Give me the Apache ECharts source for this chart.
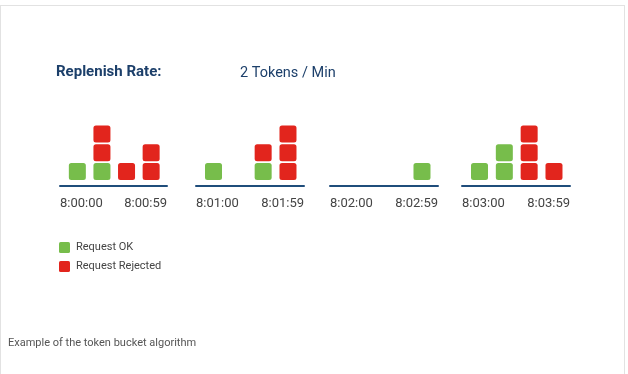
<!DOCTYPE html>
<html>
<head>
<meta charset="utf-8">
<script src="https://cdn.jsdelivr.net/npm/echarts@6/dist/echarts.min.js"></script>
<style>
  html, body { margin: 0; padding: 0; background: #ffffff; }
  #frame { position: absolute; left: 0; top: 5px; width: 625px; height: 420px; border: 1px solid #e2e2e2; box-sizing: border-box; }
  #chart { position: absolute; left: 0; top: 0; width: 628px; height: 374px; }
</style>
</head>
<body>
<div id="frame"></div>
<div id="chart"></div>
<script>
// ---- data ----
var minuteStartLabels = ['8:00:00', '8:01:00', '8:02:00', '8:03:00'];
var minuteEndLabels   = ['8:00:59', '8:01:59', '8:02:59', '8:03:59'];
// four request slots per minute; counts of requests stacked bottom-up (OK first, then rejected)
var okCounts1 = [1, 1, 0, 0];
var okCounts2 = [1, 0, 1, 0];
var okCounts3 = [0, 0, 0, 1];
var okCounts4 = [1, 2, 0, 0];
var rejectedCounts1 = [0, 2, 1, 2];
var rejectedCounts2 = [0, 0, 1, 3];
var rejectedCounts3 = [0, 0, 0, 0];
var rejectedCounts4 = [0, 0, 3, 1];
var okCounts = [okCounts1, okCounts2, okCounts3, okCounts4];
var rejectedCounts = [rejectedCounts1, rejectedCounts2, rejectedCounts3, rejectedCounts4];
var titleText = 'Replenish Rate:';
var rateText = '2 Tokens / Min';
var captionText = 'Example of the token bucket algorithm';

// ---- style ----
var GREEN = '#77bd4b';
var RED = '#e2251d';
var NAVY = '#1f4d7b';
var SQ = 'path://M2.5,0H14.5A2.5,2.5,0,0,1,17,2.5V14.5A2.5,2.5,0,0,1,14.5,17H2.5A2.5,2.5,0,0,1,0,14.5V2.5A2.5,2.5,0,0,1,2.5,0Z';
var gridLefts = [60, 196, 330, 462];
var gridWidths = [107, 108, 108, 108];
var XMIN = -0.705, XMAX = 3.645;
var YMIN = -0.77, YMAX = 4.23;

var grids = [], xAxes = [], yAxes = [], series = [];
for (var g = 0; g < 4; g++) {
  grids.push({ left: gridLefts[g], width: gridWidths[g], bottom: 188, height: 94, containLabel: false });
  (function (gi) {
    xAxes.push({
      type: 'value', gridIndex: gi, min: XMIN, max: XMAX,
      splitLine: { show: false }, axisTick: { show: false },
      axisLine: { show: true, onZero: false, lineStyle: { color: NAVY, width: 2 } },
      axisLabel: {
        show: true, customValues: [XMIN, XMAX], margin: 11,
        alignMinLabel: 'left', alignMaxLabel: 'right',
        fontFamily: 'Roboto', fontSize: 13, color: '#444',
        formatter: function (v) { return Math.abs(v - XMIN) < 0.01 ? minuteStartLabels[gi] : minuteEndLabels[gi]; }
      }
    });
  })(g);
  yAxes.push({ type: 'value', gridIndex: g, min: YMIN, max: YMAX, show: false });
  var okPts = [], rejPts = [];
  for (var s = 0; s < 4; s++) {
    var lvl = 0;
    for (var k = 0; k < okCounts[g][s]; k++) okPts.push([s, lvl++]);
    for (var k2 = 0; k2 < rejectedCounts[g][s]; k2++) rejPts.push([s, lvl++]);
  }
  series.push({ name: 'Request OK', type: 'scatter', xAxisIndex: g, yAxisIndex: g, symbol: SQ, symbolSize: 17, itemStyle: { color: GREEN, opacity: 1 }, data: okPts, silent: true, animation: false });
  series.push({ name: 'Request Rejected', type: 'scatter', xAxisIndex: g, yAxisIndex: g, symbol: SQ, symbolSize: 17, itemStyle: { color: RED, opacity: 1 }, data: rejPts, silent: true, animation: false });
}

var chart = echarts.init(document.getElementById('chart'), null, { renderer: 'canvas' });
chart.setOption({
  backgroundColor: 'transparent',
  animation: false,
  title: [
    { text: titleText, left: 56, top: 65, padding: 0, textStyle: { fontFamily: 'Roboto', fontWeight: 'bold', fontSize: 15, color: '#1c3f6a' } },
    { text: rateText, left: 240, top: 66, padding: 0, textStyle: { fontFamily: 'Roboto', fontWeight: 'normal', fontSize: 14.5, color: '#1c3f6a' } },
    { text: captionText, left: 8, top: 338, padding: 0, textStyle: { fontFamily: 'Roboto', fontWeight: 'normal', fontSize: 11, color: '#555' } }
  ],
  legend: {
    orient: 'vertical', left: 59, top: 242, padding: 0,
    itemWidth: 11, itemHeight: 11, itemGap: 8,
    icon: SQ,
    data: [ { name: 'Request OK', itemStyle: { color: GREEN } }, { name: 'Request Rejected', itemStyle: { color: RED } } ],
    textStyle: { fontFamily: 'Roboto', fontSize: 11, color: '#444', padding: [0, 0, 0, 1] },
    selectedMode: false
  },
  grid: grids,
  xAxis: xAxes,
  yAxis: yAxes,
  series: series
});
</script>
</body>
</html>
